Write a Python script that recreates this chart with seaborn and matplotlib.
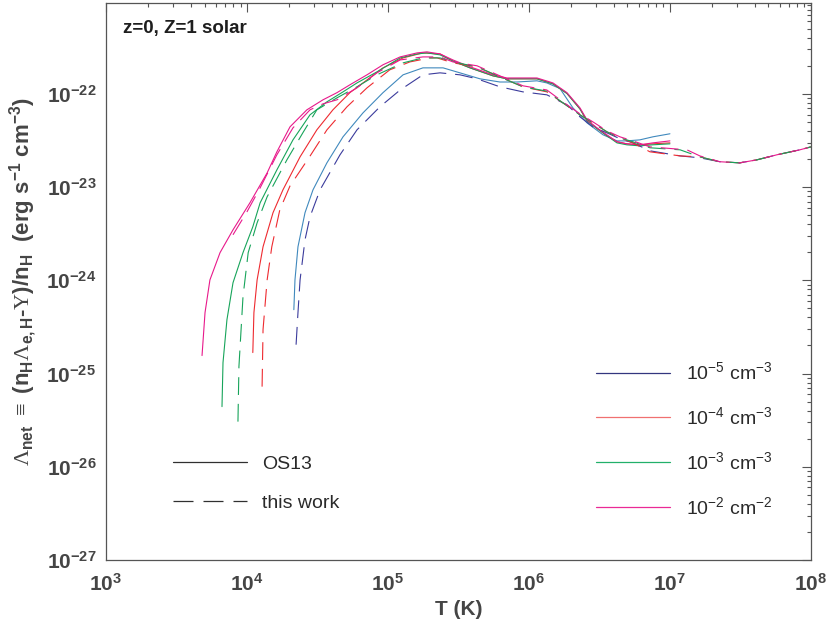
import numpy as np
import pandas as pd
import matplotlib
matplotlib.use("Agg")
import matplotlib.pyplot as plt
from matplotlib.lines import Line2D
from matplotlib.ticker import FixedLocator, LogLocator, FuncFormatter, NullFormatter
import seaborn as sns

# ---------------- data ----------------
# OS13 (solid)
os_T_1e5 = [2.15e4, 2.19e4, 2.30e4, 2.58e4, 2.94e4, 3.69e4, 4.80e4, 6.65e4, 9.22e4, 1.28e5, 1.77e5, 2.46e5, 3.24e5,
            4.49e5, 6.22e5, 8.22e5, 1.14e6, 1.34e6, 1.66e6, 2.05e6, 2.58e6, 3.35e6, 4.21e6, 4.95e6, 6.12e6, 7.57e6, 1.00e7]
os_L_1e5 = [4.84e-25, 1.01e-24, 2.29e-24, 5.31e-24, 9.35e-24, 1.82e-23, 3.46e-23, 6.25e-23, 1.03e-22, 1.60e-22, 1.90e-22,
            1.90e-22, 1.68e-22, 1.45e-22, 1.34e-22, 1.34e-22, 1.38e-22, 1.31e-22, 1.14e-22, 7.08e-23, 4.89e-23, 3.64e-23,
            3.13e-23, 3.13e-23, 3.21e-23, 3.46e-23, 3.73e-23]

os_T_1e4 = [1.10e4, 1.12e4, 1.18e4, 1.30e4, 1.53e4, 1.80e4, 2.38e4, 3.13e4, 4.07e4, 5.37e4, 7.10e4, 9.22e4, 1.28e5,
            1.77e5, 2.34e5, 2.89e5, 3.82e5, 5.56e5, 6.98e5, 8.63e5, 1.14e6, 1.48e6, 1.86e6, 2.30e6, 2.58e6, 3.04e6,
            3.57e6, 4.21e6, 4.95e6, 6.12e6, 7.57e6, 1.00e7]
os_L_1e4 = [1.68e-25, 4.50e-25, 1.01e-24, 2.29e-24, 5.31e-24, 9.35e-24, 2.11e-23, 4.11e-23, 6.74e-23, 1.03e-22, 1.41e-22,
            1.90e-22, 2.43e-22, 2.75e-22, 2.68e-22, 2.25e-22, 1.90e-22, 1.56e-22, 1.45e-22, 1.45e-22, 1.45e-22, 1.28e-22,
            1.01e-22, 6.90e-23, 5.15e-23, 4.25e-23, 3.56e-23, 3.06e-23, 2.91e-23, 2.84e-23, 2.91e-23, 2.98e-23]

os_T_1e3 = [6.65e3, 6.76e3, 7.21e3, 7.96e3, 9.37e3, 1.10e4, 1.24e4, 1.63e4, 2.12e4, 2.80e4, 3.69e4, 4.80e4, 6.03e4,
            8.35e4, 1.22e5, 1.61e5, 1.89e5, 2.34e5, 2.89e5, 3.82e5, 5.56e5, 6.98e5, 8.63e5, 1.14e6, 1.48e6, 1.86e6,
            2.30e6, 2.58e6, 3.04e6, 3.57e6, 4.21e6, 4.95e6, 6.12e6, 7.57e6, 1.00e7]
os_L_1e3 = [4.42e-26, 1.31e-25, 3.78e-25, 9.42e-25, 1.98e-24, 3.75e-24, 6.79e-24, 1.53e-23, 3.21e-23, 5.96e-23, 8.21e-23,
            1.05e-22, 1.31e-22, 1.72e-22, 2.43e-22, 2.68e-22, 2.75e-22, 2.62e-22, 2.25e-22, 1.90e-22, 1.56e-22, 1.45e-22,
            1.45e-22, 1.45e-22, 1.28e-22, 1.01e-22, 6.90e-23, 5.15e-23, 4.25e-23, 3.56e-23, 2.98e-23, 2.84e-23, 2.77e-23,
            2.84e-23, 2.91e-23]

os_T_1e2 = [4.80e3, 5.04e3, 5.46e3, 6.44e3, 7.96e3, 1.05e4, 1.39e4, 1.63e4, 2.02e4, 2.66e4, 3.46e4, 4.35e4, 5.37e4,
            7.10e4, 9.22e4, 1.22e5, 1.61e5, 1.89e5, 2.34e5, 2.89e5, 3.82e5, 5.56e5, 6.98e5, 8.63e5, 1.14e6, 1.48e6,
            1.86e6, 2.30e6, 2.58e6, 3.04e6, 3.57e6, 4.21e6, 4.95e6, 6.12e6, 7.57e6, 1.00e7]
os_L_1e2 = [1.56e-25, 4.50e-25, 1.01e-24, 1.98e-24, 3.48e-24, 6.79e-24, 1.42e-23, 2.39e-23, 4.43e-23, 6.74e-23, 8.63e-23,
            1.03e-22, 1.25e-22, 1.60e-22, 2.05e-22, 2.49e-22, 2.75e-22, 2.82e-22, 2.68e-22, 2.31e-22, 1.95e-22, 1.60e-22,
            1.48e-22, 1.48e-22, 1.48e-22, 1.31e-22, 1.03e-22, 7.08e-23, 5.26e-23, 4.32e-23, 3.64e-23, 3.06e-23, 2.91e-23,
            2.84e-23, 2.98e-23, 3.13e-23]

# this work (dashed)
tw_T_1e5 = [2.23e4, 2.30e4, 2.38e4, 2.58e4, 2.80e4, 3.30e4, 4.57e4, 6.03e4, 8.77e4, 1.22e5, 1.77e5, 2.34e5, 3.24e5,
            4.28e5, 6.22e5, 9.06e5, 1.34e6, 1.86e6, 2.30e6, 2.84e6, 3.57e6, 4.42e6, 5.47e6, 7.21e6, 1.18e7, 1.63e7,
            2.26e7, 3.13e7, 4.14e7, 5.74e7, 8.35e7, 1.00e8]
tw_L_1e5 = [2.04e-25, 4.50e-25, 1.01e-24, 2.72e-24, 4.81e-24, 9.35e-24, 2.22e-23, 4.11e-23, 7.26e-23, 1.10e-22, 1.60e-22,
            1.68e-22, 1.60e-22, 1.45e-22, 1.19e-22, 1.05e-22, 9.76e-23, 7.62e-23, 5.67e-23, 4.43e-23, 3.82e-23, 3.30e-23,
            2.98e-23, 2.45e-23, 2.16e-23, 2.06e-23, 1.87e-23, 1.82e-23, 1.96e-23, 2.22e-23, 2.51e-23, 2.70e-23]

tw_T_1e4 = [1.28e4, 1.30e4, 1.39e4, 1.50e4, 1.71e4, 2.02e4, 2.80e4, 3.69e4, 5.12e4, 7.10e4, 1.03e5, 1.43e5, 1.99e5,
            2.23e5, 2.89e5, 4.28e5, 6.22e5, 9.06e5, 1.34e6, 1.74e6, 2.30e6, 2.84e6, 3.57e6, 4.42e6, 5.47e6, 7.21e6,
            1.18e7, 1.63e7, 2.26e7, 3.13e7, 4.14e7, 5.74e7, 8.35e7, 1.00e8]
tw_L_1e4 = [7.24e-26, 2.96e-25, 1.01e-24, 2.29e-24, 5.71e-24, 1.03e-23, 2.15e-23, 4.11e-23, 7.26e-23, 1.16e-22, 1.81e-22,
            2.20e-22, 2.43e-22, 2.43e-22, 2.15e-22, 1.95e-22, 1.52e-22, 1.19e-22, 1.05e-22, 8.01e-23, 5.96e-23, 4.89e-23,
            3.92e-23, 3.38e-23, 2.98e-23, 2.39e-23, 2.16e-23, 2.11e-23, 1.87e-23, 1.82e-23, 1.96e-23, 2.22e-23, 2.51e-23,
            2.70e-23]

tw_T_1e3 = [8.63e3, 8.77e3, 9.37e3, 1.02e4, 1.18e4, 1.39e4, 1.92e4, 2.49e4, 3.13e4, 4.35e4, 6.03e4, 8.35e4, 1.28e5,
            1.77e5, 2.34e5, 2.89e5, 4.28e5, 6.22e5, 9.06e5, 1.34e6, 1.74e6, 2.30e6, 2.84e6, 3.57e6, 4.42e6, 5.47e6,
            7.21e6, 1.18e7, 1.63e7, 2.26e7, 3.13e7, 4.14e7, 5.74e7, 8.35e7, 1.00e8]
tw_L_1e3 = [3.05e-26, 1.19e-25, 6.67e-25, 1.98e-24, 4.14e-24, 7.87e-24, 1.96e-23, 3.82e-23, 6.74e-23, 9.06e-23, 1.19e-22,
            1.60e-22, 2.15e-22, 2.43e-22, 2.43e-22, 2.20e-22, 1.95e-22, 1.52e-22, 1.19e-22, 1.07e-22, 8.01e-23, 5.96e-23,
            4.89e-23, 3.92e-23, 3.38e-23, 3.06e-23, 2.64e-23, 2.51e-23, 2.11e-23, 1.87e-23, 1.82e-23, 1.96e-23, 2.22e-23,
            2.51e-23, 2.70e-23]

tw_T_1e2 = [7.96e3, 1.00e4, 1.24e4, 1.63e4, 2.12e4, 2.80e4, 3.46e4, 4.35e4, 6.03e4, 8.35e4, 1.22e5, 1.77e5, 2.34e5,
            2.89e5, 4.28e5, 6.22e5, 9.06e5, 1.34e6, 1.74e6, 2.30e6, 2.84e6, 3.57e6, 4.42e6, 5.47e6, 7.21e6, 1.32e7,
            1.63e7, 2.26e7, 3.13e7, 4.14e7, 5.74e7, 8.35e7, 1.00e8]
tw_L_1e2 = [3.08e-24, 5.43e-24, 9.82e-24, 2.22e-23, 4.32e-23, 6.74e-23, 7.81e-23, 8.63e-23, 1.16e-22, 1.68e-22, 2.31e-22,
            2.49e-22, 2.49e-22, 2.20e-22, 2.00e-22, 1.56e-22, 1.22e-22, 1.10e-22, 8.21e-23, 6.10e-23, 5.01e-23, 4.01e-23,
            3.46e-23, 3.13e-23, 2.70e-23, 2.51e-23, 2.16e-23, 1.87e-23, 1.82e-23, 1.96e-23, 2.22e-23, 2.51e-23, 2.70e-23]

x_ticks = [1e3, 1e4, 1e5, 1e6, 1e7, 1e8]
y_ticks = [1e-27, 1e-26, 1e-25, 1e-24, 1e-23, 1e-22]
density_labels = [r"$10^{-5}$ cm$^{-3}$", r"$10^{-4}$ cm$^{-3}$", r"$10^{-3}$ cm$^{-3}$", r"$10^{-2}$ cm$^{-2}$"]
source_labels = ["OS13", "this work"]
title_text = "z=0, Z=1 solar"

# ---------------- styling ----------------
sns.set_theme(style="white")
plt.rcParams["font.family"] = ["Liberation Sans", "DejaVu Sans"]
plt.rcParams["mathtext.fontset"] = "custom"
plt.rcParams["mathtext.rm"] = "Liberation Sans"
plt.rcParams["mathtext.bf"] = "Liberation Sans:bold"
plt.rcParams["mathtext.sf"] = "Liberation Serif"
plt.rcParams["mathtext.it"] = "Liberation Sans:italic"
plt.rcParams["axes.unicode_minus"] = True

axis_col = "#555555"
text_col = "#454545"

colors = {
    "1e-5 OS13": "#4089bd", "1e-5 this work": "#3b3b9c",
    "1e-4 OS13": "#ee2a30", "1e-4 this work": "#ee2a30",
    "1e-3 OS13": "#17a45a", "1e-3 this work": "#17a45a",
    "1e-2 OS13": "#e8198b", "1e-2 this work": "#e8198b",
}
legend_colors = ["#33367f", "#f07070", "#22b06a", "#ea2a96"]

rows = []
series = [
    ("1e-5", "OS13", os_T_1e5, os_L_1e5), ("1e-4", "OS13", os_T_1e4, os_L_1e4),
    ("1e-3", "OS13", os_T_1e3, os_L_1e3), ("1e-2", "OS13", os_T_1e2, os_L_1e2),
    ("1e-5", "this work", tw_T_1e5, tw_L_1e5), ("1e-4", "this work", tw_T_1e4, tw_L_1e4),
    ("1e-3", "this work", tw_T_1e3, tw_L_1e3), ("1e-2", "this work", tw_T_1e2, tw_L_1e2),
]
for dens, src, T, L in series:
    for t, l in zip(T, L):
        rows.append({"T": t, "Lambda": l, "curve": f"{dens} {src}", "source": src})
df = pd.DataFrame(rows)

fig = plt.figure(figsize=(8.30, 6.26), dpi=100)
ax = fig.add_axes([0.1277, 0.1054, 0.8493, 0.8903])

sns.lineplot(data=df, x="T", y="Lambda", hue="curve", style="source", palette=colors,
             dashes={"OS13": "", "this work": (16, 8)}, estimator=None, sort=False,
             linewidth=0.8, legend=False, ax=ax)

ax.set_xscale("log")
ax.set_yscale("log")
ax.set_xlim(1e3, 1e8)
ax.set_ylim(1e-27, 9.5e-22)

ax.xaxis.set_major_locator(FixedLocator(x_ticks))
ax.yaxis.set_major_locator(FixedLocator(y_ticks))
ax.xaxis.set_minor_locator(LogLocator(base=10, subs=np.arange(2, 10), numticks=20))
ax.yaxis.set_minor_locator(LogLocator(base=10, subs=np.arange(2, 10), numticks=20))
fmt = FuncFormatter(lambda v, p: r"$\mathbf{10^{%d}}$" % int(round(np.log10(v))))
ax.xaxis.set_major_formatter(fmt)
ax.yaxis.set_major_formatter(fmt)
ax.xaxis.set_minor_formatter(NullFormatter())
ax.yaxis.set_minor_formatter(NullFormatter())

ax.tick_params(which="both", direction="in", top=True, right=True, color=axis_col,
               labelcolor=text_col, labelsize=15, width=0.8)
ax.tick_params(which="major", length=6.5)
ax.tick_params(which="minor", length=3.2)
ax.tick_params(axis="x", pad=9)
ax.tick_params(axis="y", pad=7)
for s in ax.spines.values():
    s.set_color(axis_col)
    s.set_linewidth(0.9)

ax.set_xlabel("T (K)", fontsize=15, fontweight="bold", color=text_col, labelpad=4)
ax.set_ylabel(r"$\mathsf{\Lambda}_\mathbf{net}$ $\mathsf{\equiv}$ (n$_\mathbf{H}$$\mathsf{\Lambda}_\mathbf{e,H}$-$\mathsf{\Upsilon}$)/n$_\mathbf{H}$  (erg s$^\mathbf{-1}$ cm$^\mathbf{-3}$)",
              fontsize=16, fontweight="bold", color=text_col, labelpad=5)

ax.text(0.024, 0.953, title_text, transform=ax.transAxes, fontsize=13.5, fontweight="bold",
        color="#1e1e1e", va="center", ha="left")

# legends
src_handles = [Line2D([], [], color="#303030", lw=0.9, ls="-"),
               Line2D([], [], color="#303030", lw=0.9, ls=(0, (16, 8)))]
leg1 = ax.legend(src_handles, source_labels, loc="center left", bbox_to_anchor=(0.070, 0.137),
                 frameon=False, fontsize=14, handlelength=3.8, handletextpad=0.8, labelspacing=1.1,
                 labelcolor="#2a2a2a")
ax.add_artist(leg1)
dens_handles = [Line2D([], [], color=c, lw=0.9) for c in legend_colors]
ax.legend(dens_handles, density_labels, loc="center left", bbox_to_anchor=(0.671, 0.216),
          frameon=False, fontsize=14, handlelength=3.8, handletextpad=0.8, labelspacing=1.18,
          labelcolor="#2a2a2a")

fig.savefig("out.png", dpi=100)
